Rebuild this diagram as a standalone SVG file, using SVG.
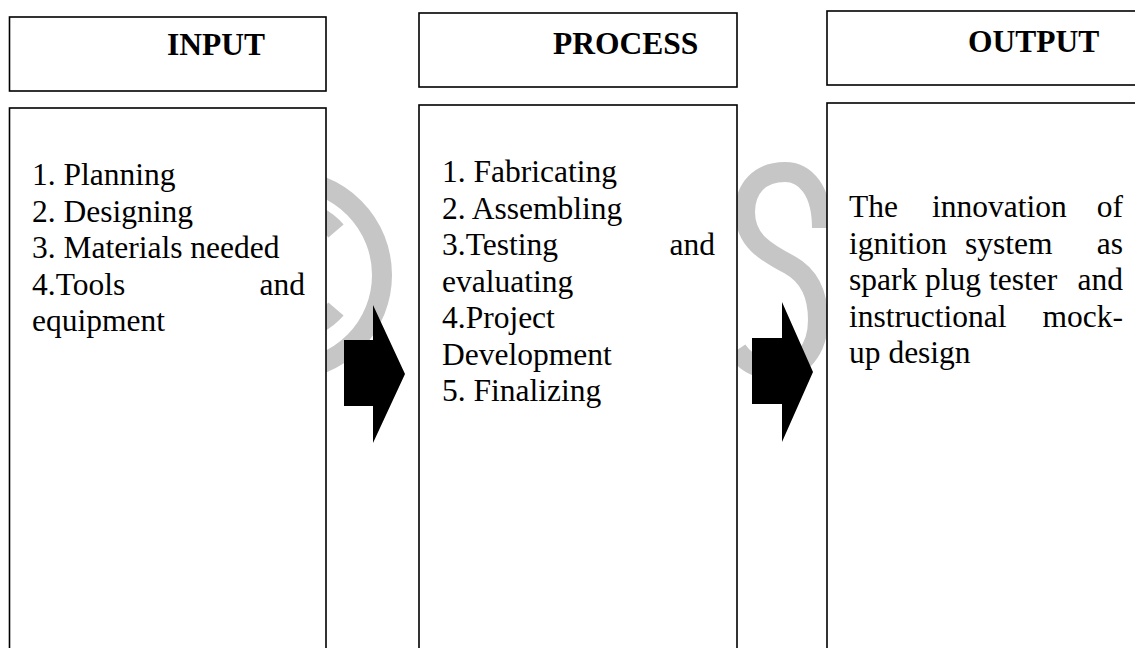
<svg xmlns="http://www.w3.org/2000/svg" width="1135" height="648" viewBox="0 0 1135 648">
<style>
.box{fill:#fff;stroke:#000;stroke-width:1.6}
.hd{font-family:"Liberation Serif","Times New Roman",serif;font-weight:bold;font-size:31.5px;fill:#000}
.tx{font-family:"Liberation Serif","Times New Roman",serif;font-size:31.5px;fill:#000}
.wm{fill:none;stroke:#c6c6c6;stroke-width:20}
.arrow{fill:#000}
</style>
<rect width="1135" height="648" fill="#fff"/>
<g id="watermark">
<circle class="wm" cx="287" cy="275" r="95"/>
<path class="wm" d="M336 231 A60 60 0 1 0 336 309"/>
<path class="wm" d="M822 228 C822 190 805 172 785 172 C760 172 745 188 745 212 C745 240 765 252 790 265 C810 276 818 295 818 320 C818 350 800 370 778 370 C758 370 745 362 737 350"/>
</g>
<g id="input">
<rect class="box" x="9.5" y="17" width="316.5" height="74"/>
<text class="hd" x="167" y="55">INPUT</text>
<rect class="box" x="9.5" y="108" width="316.5" height="560"/>
<text class="tx" x="32" y="185">1. Planning</text>
<text class="tx" x="32" y="221.5">2. Designing</text>
<text class="tx" x="32" y="258">3. Materials needed</text>
<text class="tx" x="32" y="294.5">4.Tools</text>
<text class="tx" x="305" y="294.5" text-anchor="end">and</text>
<text class="tx" x="32" y="331">equipment</text>
</g>
<g id="process">
<rect class="box" x="419" y="13" width="318" height="74"/>
<text class="hd" x="553" y="54">PROCESS</text>
<rect class="box" x="419" y="105" width="318" height="560"/>
<text class="tx" x="442" y="182">1. Fabricating</text>
<text class="tx" x="442" y="218.5">2. Assembling</text>
<text class="tx" x="442" y="255">3.Testing</text>
<text class="tx" x="715" y="255" text-anchor="end">and</text>
<text class="tx" x="442" y="291.5">evaluating</text>
<text class="tx" x="442" y="328">4.Project</text>
<text class="tx" x="442" y="364.5">Development</text>
<text class="tx" x="442" y="401">5. Finalizing</text>
</g>
<g id="output">
<rect class="box" x="827" y="11" width="320" height="74"/>
<text class="hd" x="968" y="52">OUTPUT</text>
<rect class="box" x="827" y="103" width="320" height="560"/>
<text class="tx" x="849" y="217">The</text>
<text class="tx" x="932" y="217">innovation</text>
<text class="tx" x="1123" y="217" text-anchor="end">of</text>
<text class="tx" x="849" y="253.5">ignition</text>
<text class="tx" x="965" y="253.5">system</text>
<text class="tx" x="1123" y="253.5" text-anchor="end">as</text>
<text class="tx" x="849" y="290">spark plug tester</text>
<text class="tx" x="1123" y="290" text-anchor="end">and</text>
<text class="tx" x="849" y="326.5">instructional</text>
<text class="tx" x="1123" y="326.5" text-anchor="end">mock-</text>
<text class="tx" x="849" y="363">up design</text>
</g>
<g id="connectors">
<polygon class="arrow" points="344,340 373,340 373,305 405,374 373,443 373,406 344,406"/>
<polygon class="arrow" points="752,338 782,338 782,302 813,372 782,442 782,404 752,404"/>
</g>
</svg>
